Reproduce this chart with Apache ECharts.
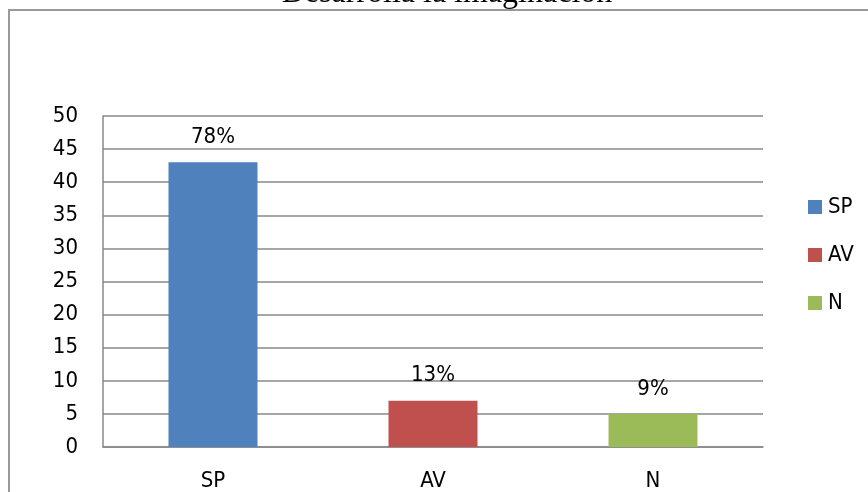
<!DOCTYPE html>
<html>
<head>
<meta charset="utf-8">
<script src="https://cdn.jsdelivr.net/npm/echarts@6/dist/echarts.min.js"></script>
<style>html,body{margin:0;padding:0;background:#fff;}#c{width:868px;height:492px;}</style>
</head>
<body>
<div id="c"></div>
<script>
const titleText = 'Desarrolla la imaginación';
const categories = ['SP', 'AV', 'N'];
const values = [43, 7, 5];
const percentLabels = ['78%', '13%', '9%'];
const yTicks = { min: 0, max: 50, interval: 5 };
const colors = ['#4F81BD', '#C0504D', '#9BBB59'];

const chart = echarts.init(document.getElementById('c'));
const font = '"DejaVu Sans Condensed", "DejaVu Sans", sans-serif';
const series = categories.map((name, i) => ({
  name: name,
  type: 'bar',
  stack: 'one',
  barWidth: 89,
  itemStyle: { color: colors[i] },
  data: categories.map((c, j) => (j === i ? values[i] : '-')),
  label: {
    show: true,
    position: 'top',
    distance: 14,
    formatter: () => percentLabels[i],
    fontFamily: font,
    fontSize: 22,
    color: '#000'
  }
}));

chart.setOption({
  animation: false,
  backgroundColor: '#fff',
  graphic: [
    { type: 'rect', shape: { x: 9, y: 10, width: 900, height: 520 }, style: { fill: 'none', stroke: '#999', lineWidth: 2 } },
    { type: 'text', x: 447, y: -6, style: { text: titleText, font: '32px "Liberation Serif"', fill: '#000', align: 'center', verticalAlign: 'middle' } }
  ],
  legend: {
    data: categories,
    orient: 'vertical',
    left: 803,
    top: 191,
    itemWidth: 14,
    itemHeight: 14,
    itemGap: 26,
    icon: 'rect',
    textStyle: { fontFamily: font, fontSize: 22, color: '#000', padding: [0, 0, 0, 1] }
  },
  grid: { left: 103, right: 105, top: 116, bottom: 41 },
  xAxis: {
    type: 'category',
    data: categories,
    axisTick: { show: false },
    axisLine: { lineStyle: { color: '#888', width: 1.5 } },
    axisLabel: { margin: 23, fontFamily: font, fontSize: 22, color: '#000' }
  },
  yAxis: {
    type: 'value',
    min: yTicks.min,
    max: yTicks.max,
    interval: yTicks.interval,
    axisLine: { show: true, lineStyle: { color: '#888', width: 1.5 } },
    axisTick: { show: false },
    splitLine: { lineStyle: { color: '#888', width: 1.5 } },
    axisLabel: { margin: 25, fontFamily: font, fontSize: 22, color: '#000' }
  },
  series: series
});
</script>
</body>
</html>
